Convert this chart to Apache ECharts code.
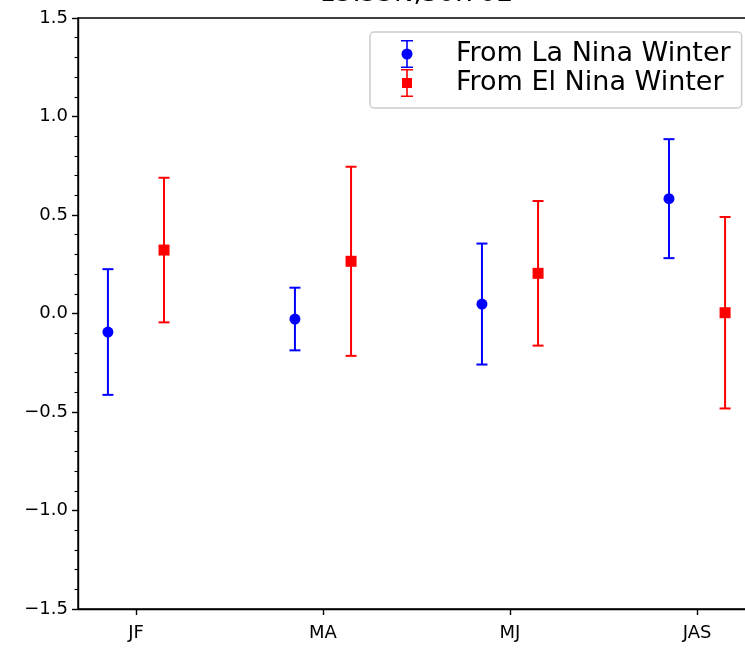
<!DOCTYPE html>
<html>
<head>
<meta charset="utf-8">
<script src="https://cdn.jsdelivr.net/npm/echarts@6/dist/echarts.min.js"></script>
<style>
html,body{margin:0;padding:0;background:#fff;}
#chart{width:745px;height:648px;}
</style>
</head>
<body>
<div id="chart"></div>
<script>
const titleText = '15.55N,30.70E';
const categories = ['JF', 'MA', 'MJ', 'JAS'];
const laNinaName = 'From La Nina Winter';
const laNinaMean = [-0.094, -0.028, 0.048, 0.583];
const laNinaErr = [0.319, 0.159, 0.307, 0.302];
const elNinaName = 'From El Nina Winter';
const elNinaMean = [0.322, 0.265, 0.204, 0.004];
const elNinaErr = [0.367, 0.480, 0.367, 0.486];
const yTicks = [-1.5, -1.0, -0.5, 0.0, 0.5, 1.0, 1.5];

const OFFSET = 0.15;
const FONT = 'DejaVu Sans';
const catPos = categories.map((c, i) => i + 1);

function points(means, off) {
  return means.map((m, i) => [catPos[i] + off, m]);
}
function bars(means, errs, off) {
  return means.map((m, i) => [catPos[i] + off, m - errs[i], m + errs[i]]);
}
function errRender(color) {
  return function (params, api) {
    const x = api.value(0);
    const lo = api.coord([x, api.value(1)]);
    const hi = api.coord([x, api.value(2)]);
    const cw = 5.5;
    const style = { stroke: color, lineWidth: 2, fill: null };
    return {
      type: 'group',
      children: [
        { type: 'line', shape: { x1: lo[0], y1: lo[1], x2: hi[0], y2: hi[1] }, style: style },
        { type: 'line', shape: { x1: hi[0] - cw, y1: hi[1], x2: hi[0] + cw, y2: hi[1] }, style: style },
        { type: 'line', shape: { x1: lo[0] - cw, y1: lo[1], x2: lo[0] + cw, y2: lo[1] }, style: style }
      ]
    };
  };
}

const iconCircle = 'path://M0 0H12V1.6H0Z M5.2 0H6.8V28H5.2Z M0 26.4H12V28H0Z M0.5 14A5.5 5.5 0 1 1 11.5 14A5.5 5.5 0 1 1 0.5 14Z';
const iconSquare = 'path://M0 0H12V1.6H0Z M5.2 0H6.8V28H5.2Z M0 26.4H12V28H0Z M1 9H11V19H1Z';

const chart = echarts.init(document.getElementById('chart'), null, { renderer: 'canvas' });
chart.setOption({
  animation: false,
  backgroundColor: '#ffffff',
  textStyle: { fontFamily: FONT },
  graphic: [{
    type: 'text',
    style: {
      text: titleText,
      x: 416, y: 7,
      textAlign: 'center',
      textVerticalAlign: 'bottom',
      font: '26px "DejaVu Sans"',
      fill: '#000'
    }
  }],
  grid: {
    left: 78, top: 18, width: 677, height: 591,
    outerBoundsMode: 'none',
    containLabel: false,
    show: true, borderColor: '#000', borderWidth: 1.4, backgroundColor: 'transparent'
  },
  legend: {
    orient: 'vertical',
    left: 370, top: 32,
    padding: [8, 11, 11, 31],
    itemWidth: 12, itemHeight: 28, itemGap: 1,
    backgroundColor: 'rgba(255,255,255,0.8)',
    borderColor: '#cccccc', borderWidth: 1.5, borderRadius: 4,
    selectedMode: false,
    textStyle: { fontFamily: FONT, fontSize: 27, color: '#000', padding: [0, 0, 0, 38] },
    data: [
      { name: laNinaName, icon: iconCircle },
      { name: elNinaName, icon: iconSquare }
    ],
    z: 10
  },
  xAxis: {
    type: 'value',
    min: 0.69, max: 4.31,
    splitLine: { show: false },
    axisLine: { show: true, onZero: false, lineStyle: { color: '#000', width: 1.4 } },
    axisTick: { show: true, length: 6, customValues: catPos, lineStyle: { color: '#000', width: 1.4 } },
    axisLabel: {
      customValues: catPos,
      formatter: v => categories[Math.round(v) - 1] || '',
      fontFamily: FONT, fontSize: 18, color: '#000', margin: 15
    }
  },
  yAxis: {
    type: 'value',
    min: -1.5, max: 1.5, interval: 0.5,
    splitLine: { show: false },
    axisLine: { show: true, onZero: false, lineStyle: { color: '#000', width: 1.4 } },
    axisTick: { show: true, length: 6, lineStyle: { color: '#000', width: 1.4 } },
    minorTick: { show: true, splitNumber: 5, length: 3.5, lineStyle: { color: '#000', width: 1.1 } },
    axisLabel: {
      formatter: v => {
        const t = yTicks.find(k => Math.abs(k - v) < 1e-9);
        return (t !== undefined ? t : v).toFixed(1).replace('-', '\u2212');
      },
      fontFamily: FONT, fontSize: 18, color: '#000', margin: 10
    }
  },
  series: [
    {
      type: 'custom', name: laNinaName + ' err', renderItem: errRender('#0000ff'),
      data: bars(laNinaMean, laNinaErr, -OFFSET), z: 2, silent: true
    },
    {
      type: 'custom', name: elNinaName + ' err', renderItem: errRender('#ff0000'),
      data: bars(elNinaMean, elNinaErr, OFFSET), z: 2, silent: true
    },
    {
      type: 'scatter', name: laNinaName, symbol: 'circle', symbolSize: 11,
      itemStyle: { color: '#0000ff', opacity: 1 },
      data: points(laNinaMean, -OFFSET), z: 3
    },
    {
      type: 'scatter', name: elNinaName, symbol: 'rect', symbolSize: 11,
      itemStyle: { color: '#ff0000', opacity: 1 },
      data: points(elNinaMean, OFFSET), z: 3
    }
  ]
});
</script>
</body>
</html>
